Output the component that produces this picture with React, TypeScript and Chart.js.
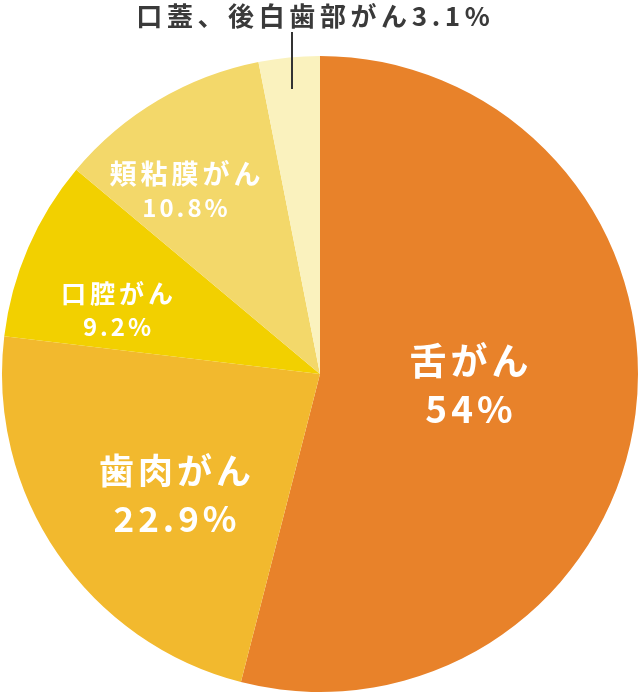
import React, { useEffect, useRef } from "react";
import { Chart, registerables } from "chart.js";

Chart.register(...registerables);

const categories = ["舌がん", "歯肉がん", "口腔がん", "頬粘膜がん", "口蓋、後白歯部がん"];
const values = [54, 22.9, 9.2, 10.8, 3.1];
const valueLabels = ["54%", "22.9%", "9.2%", "10.8%", "3.1%"];
const colors = ["#E8822A", "#F2B92E", "#F2D000", "#F3D86A", "#FAF2BE"];

const FONT = '"Noto Sans CJK JP", "Noto Sans", sans-serif';

const labelPlugin = {
  id: "sliceLabels",
  afterDraw(chart: any) {
    const ctx = chart.ctx as CanvasRenderingContext2D;
    const meta = chart.getDatasetMeta(0);
    const spec = [
      { size: 37, vsize: 37, spacing: 4, vspacing: 4, dx: 149, dy: 11, gap: 48 },
      { size: 35, vsize: 35, spacing: 4, vspacing: 4, dx: -145, dy: 121, gap: 48 },
      { size: 25, vsize: 24, spacing: 4, vspacing: 3, dx: -203, dy: -64, gap: 34 },
      { size: 27, vsize: 24, spacing: 4, vspacing: 3, dx: -135, dy: -183, gap: 34 },
    ];
    ctx.save();
    ctx.textAlign = "center";
    ctx.textBaseline = "middle";
    ctx.fillStyle = "#ffffff";
    for (let i = 0; i < 4; i++) {
      const arc = meta.data[i];
      const s = spec[i];
      const x = arc.x + s.dx;
      const y = arc.y + s.dy;
      ctx.font = `700 ${s.size}px ${FONT}`;
      (ctx as any).letterSpacing = `${s.spacing}px`;
      ctx.fillText(categories[i], x + s.spacing / 2, y - s.gap / 2);
      ctx.font = `700 ${s.vsize}px ${FONT}`;
      (ctx as any).letterSpacing = `${s.vspacing}px`;
      ctx.fillText(valueLabels[i], x + s.vspacing / 2, y + s.gap / 2);
    }
    // outside label for last slice
    const arc = meta.data[4];
    const mid = (arc.startAngle + arc.endAngle) / 2;
    const lx = arc.x + Math.cos(mid) * arc.outerRadius * 0.9;
    const topY = arc.y - arc.outerRadius;
    ctx.strokeStyle = "#333333";
    ctx.lineWidth = 2;
    ctx.beginPath();
    ctx.moveTo(Math.round(lx), topY - 24);
    ctx.lineTo(Math.round(lx), topY + 33);
    ctx.stroke();
    ctx.fillStyle = "#3a3a3a";
    ctx.font = `700 26px ${FONT}`;
    (ctx as any).letterSpacing = "4.6px";
    ctx.fillText(categories[4] + valueLabels[4], 313 + 2.3, 16);
    ctx.restore();
  },
};

export default function App() {
  const ref = useRef<HTMLCanvasElement>(null);
  useEffect(() => {
    const chart = new Chart(ref.current!, {
      type: "pie",
      data: {
        labels: categories,
        datasets: [
          {
            data: values,
            backgroundColor: colors,
            borderWidth: 0,
          },
        ],
      },
      options: {
        animation: false,
        responsive: false,
        maintainAspectRatio: false,
        layout: { padding: { top: 56, left: 2, right: 0, bottom: 1 } },
        plugins: {
          legend: { display: false },
          tooltip: { enabled: false },
        },
      },
      plugins: [labelPlugin],
    });
    return () => chart.destroy();
  }, []);
  return (
    <div style={{ position: "fixed", left: 0, top: 0, width: 638, height: 693, background: "#fff" }}>
      <canvas ref={ref} width={638} height={693} style={{ width: 638, height: 693 }} />
    </div>
  );
}
